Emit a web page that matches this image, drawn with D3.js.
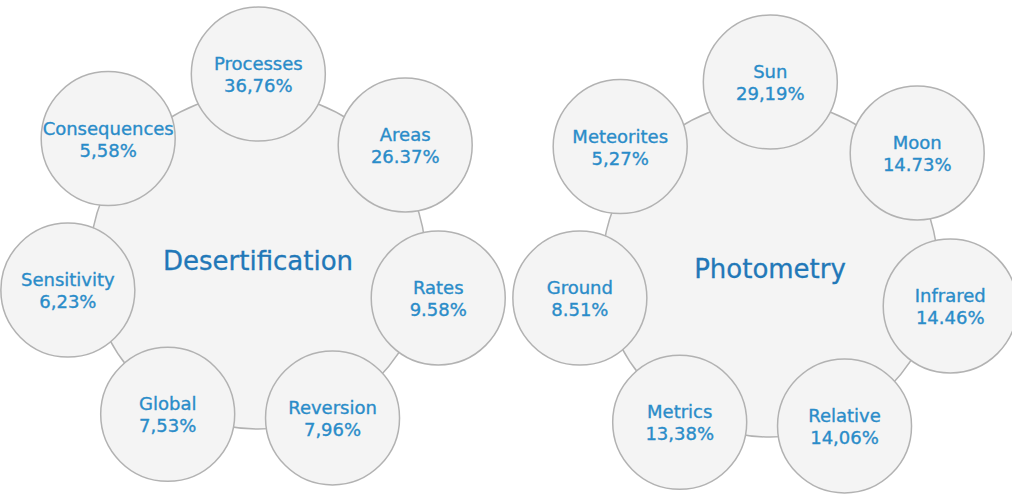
<!DOCTYPE html>
<html>
<head>
<meta charset="utf-8">
<script src="https://cdn.jsdelivr.net/npm/d3@7"></script>
<style>
  body { margin: 0; background: #fff; }
  svg { display: block; font-family: "DejaVu Sans", Verdana, sans-serif; }
</style>
</head>
<body>
<svg id="svg" width="1012" height="496"></svg>
<script>
// Data: two topics, each with seven sub-topics and their shares
var topics = ["Desertification", "Photometry"];

var desertNames = ["Processes", "Areas", "Rates", "Reversion", "Global", "Sensitivity", "Consequences"];
var desertValues = [36.76, 26.37, 9.58, 7.96, 7.53, 6.23, 5.58];
var desertLabels = ["36,76%", "26.37%", "9.58%", "7,96%", "7,53%", "6,23%", "5,58%"];

var photoNames = ["Sun", "Moon", "Infrared", "Relative", "Metrics", "Ground", "Meteorites"];
var photoValues = [29.19, 14.73, 14.46, 14.06, 13.38, 8.51, 5.27];
var photoLabels = ["29,19%", "14.73%", "14.46%", "14,06%", "13,38%", "8.51%", "5,27%"];

var svg = d3.select("svg");

// Layout of each group (satellites on a slightly flat orbit, hub a bit below its centre)
var groups = [
    { title: topics[0], names: desertNames, values: desertValues, labels: desertLabels, cx: 254, cy: 254 },
    { title: topics[1], names: photoNames, values: photoValues, labels: photoLabels, cx: 766, cy: 262 }
];
var hubR = 168;
var hubDx = 4, hubDy = 7;
var orbitRx = 190, orbitRy = 180;
var satR = 67;
var startAngle = 1.3 * Math.PI / 180;

var fill = "#f4f4f4";
var stroke = "#b2b2b2";
var labelColor = "#2a8cc9";
var titleColor = "#2278b8";

groups.forEach(function(g) {
    // angle scale: index -> position around the hub (clockwise from top)
    var angle = d3.scaleLinear()
        .domain([0, g.names.length])
        .range([startAngle, startAngle + 2 * Math.PI]);

    var group = svg.append("g")
        .attr("transform", "translate(" + g.cx + "," + g.cy + ")");

    var hub = group.append("g")
        .attr("transform", "translate(" + hubDx + "," + hubDy + ")");

    hub.append("circle")
        .attr("r", hubR)
        .attr("fill", fill)
        .attr("stroke", stroke)
        .attr("stroke-width", 1.5);

    hub.append("text")
        .attr("text-anchor", "middle")
        .attr("y", 9)
        .attr("font-size", 26)
        .attr("fill", titleColor)
        .attr("stroke", titleColor)
        .attr("stroke-width", 0.3)
        .text(g.title);

    var sat = group.selectAll("g.sat")
        .data(g.names.map(function(n, i) { return { name: n, value: g.values[i], label: g.labels[i], i: i }; }))
        .enter().append("g")
        .attr("class", "sat")
        .attr("transform", function(d) {
            var a = angle(d.i);
            return "translate(" + (orbitRx * Math.sin(a)) + "," + (-orbitRy * Math.cos(a)) + ")";
        });

    sat.append("circle")
        .attr("r", satR)
        .attr("fill", fill)
        .attr("stroke", stroke)
        .attr("stroke-width", 1.5);

    var label = sat.append("text")
        .attr("text-anchor", "middle")
        .attr("font-size", 18)
        .attr("fill", labelColor)
        .attr("stroke", labelColor)
        .attr("stroke-width", 0.35);

    label.append("tspan")
        .attr("x", 0)
        .attr("y", -4)
        .text(function(d) { return d.name; });

    label.append("tspan")
        .attr("x", 0)
        .attr("y", 18)
        .text(function(d) { return d.label; });
});
</script>
</body>
</html>
